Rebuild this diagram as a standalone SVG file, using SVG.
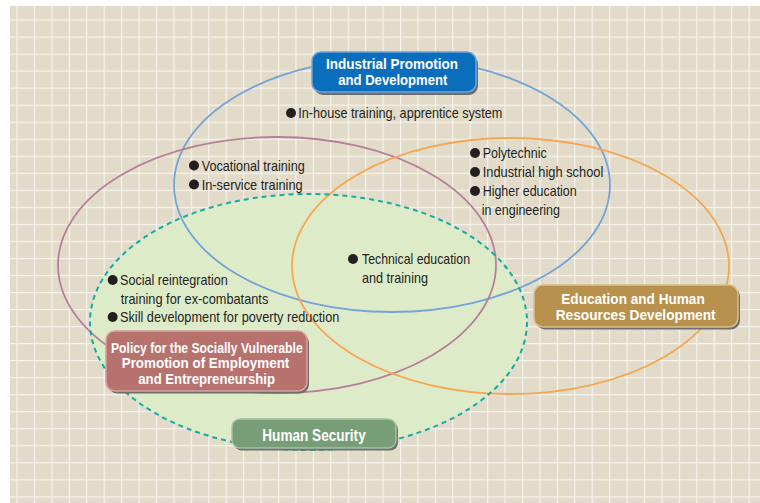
<svg xmlns="http://www.w3.org/2000/svg" width="760" height="503" viewBox="0 0 760 503">
<defs>
<pattern id="grid" patternUnits="userSpaceOnUse" x="16.5" y="19.5" width="17.43" height="17.03">
<rect x="0" y="0" width="1.1" height="17.03" fill="#f8f5ee"/>
<rect x="0" y="0" width="17.43" height="1.1" fill="#f8f5ee"/>
</pattern>
<style>
.bt{font-family:"Liberation Sans",Arial,sans-serif;font-size:14.5px;fill:#231f20}
.lt{font-family:"Liberation Sans",Arial,sans-serif;font-size:15.5px;font-weight:bold;fill:#ffffff}
.ls{font-size:14px}
.sh{fill:#6e6e6e}
.dot{fill:#231f20}
.ell{fill:none;stroke-width:1.8}
</style>
</defs>
<rect x="0" y="0" width="760" height="503" fill="#ffffff"/>
<rect x="10" y="6" width="750" height="497" fill="#e2dbca"/>
<rect x="10" y="6" width="750" height="497" fill="url(#grid)"/>

<g id="connectors">
<ellipse cx="308.5" cy="322" rx="218.5" ry="128" fill="#deebc9"/>
<ellipse class="ell" cx="392" cy="185" rx="218" ry="127" stroke="#72a3d9"/>
<ellipse class="ell" cx="277" cy="265" rx="219" ry="128" stroke="#b77f99"/>
<ellipse class="ell" cx="510.5" cy="266" rx="218.5" ry="128" stroke="#f6a650"/>
<ellipse cx="308.5" cy="322" rx="218.5" ry="128" fill="none" stroke="#17aaa5" stroke-width="2" stroke-dasharray="5 4"/>
</g>

<g id="items">
<circle class="dot" cx="291" cy="113" r="5"/>
<text class="bt" x="298.3" y="118" textLength="204" lengthAdjust="spacingAndGlyphs">In-house training, apprentice system</text>
<circle class="dot" cx="194" cy="165.5" r="5"/>
<text class="bt" x="201.7" y="170.5" textLength="103" lengthAdjust="spacingAndGlyphs">Vocational training</text>
<circle class="dot" cx="194" cy="184.5" r="5"/>
<text class="bt" x="201.7" y="189.5" textLength="101" lengthAdjust="spacingAndGlyphs">In-service training</text>
<circle class="dot" cx="475" cy="153" r="5"/>
<text class="bt" x="482.7" y="158" textLength="64" lengthAdjust="spacingAndGlyphs">Polytechnic</text>
<circle class="dot" cx="475" cy="172" r="5"/>
<text class="bt" x="482.7" y="177" textLength="120.6" lengthAdjust="spacingAndGlyphs">Industrial high school</text>
<circle class="dot" cx="475" cy="191" r="5"/>
<text class="bt" x="482.7" y="196" textLength="94" lengthAdjust="spacingAndGlyphs">Higher education</text>
<text class="bt" x="481.7" y="214.5" textLength="78.3" lengthAdjust="spacingAndGlyphs">in engineering</text>
<circle class="dot" cx="353" cy="259" r="5"/>
<text class="bt" x="362" y="264" textLength="108" lengthAdjust="spacingAndGlyphs">Technical education</text>
<text class="bt" x="362" y="283" textLength="66" lengthAdjust="spacingAndGlyphs">and training</text>
<circle class="dot" cx="112.7" cy="280" r="5"/>
<text class="bt" x="120" y="285" textLength="107.7" lengthAdjust="spacingAndGlyphs">Social reintegration</text>
<text class="bt" x="120.7" y="303.5" textLength="147.6" lengthAdjust="spacingAndGlyphs">training for ex-combatants</text>
<circle class="dot" cx="112.7" cy="317" r="5"/>
<text class="bt" x="120" y="322" textLength="219.3" lengthAdjust="spacingAndGlyphs">Skill development for poverty reduction</text>
</g>

<g id="industrial">
<rect class="sh" x="314" y="55" width="164" height="40" rx="9"/>
<rect x="312" y="52" width="164" height="40" rx="9" fill="#0a6ebd" stroke="#6ba4da" stroke-width="1.5"/>
<text class="lt" x="326" y="69.3" textLength="132" lengthAdjust="spacingAndGlyphs">Industrial Promotion</text>
<text class="lt" x="338.3" y="85" textLength="109" lengthAdjust="spacingAndGlyphs">and Development</text>
</g>

<g id="policy">
<rect class="sh" x="108" y="333.5" width="201" height="60" rx="9"/>
<rect x="106" y="331" width="201" height="60" rx="9" fill="#b8726e" stroke="#d3a3a0" stroke-width="1.5"/>
<text class="lt" x="111" y="352.5" textLength="191.7" lengthAdjust="spacingAndGlyphs">Policy for the Socially Vulnerable</text>
<text class="lt" x="121.7" y="368" textLength="167.6" lengthAdjust="spacingAndGlyphs">Promotion of Employment</text>
<text class="lt" x="138.3" y="384" textLength="136.7" lengthAdjust="spacingAndGlyphs">and Entrepreneurship</text>
</g>

<g id="human-security">
<rect class="sh" x="234" y="421.5" width="164" height="29" rx="8"/>
<rect x="232" y="419" width="164" height="29" rx="8" fill="#789e77" stroke="#a7c2a5" stroke-width="1.5"/>
<text class="lt" x="262.3" y="440.7" textLength="103.4" lengthAdjust="spacingAndGlyphs" style="font-size:16.5px">Human Security</text>
</g>

<g id="education">
<rect class="sh" x="536" y="287.5" width="204" height="42" rx="9"/>
<rect x="534" y="285" width="204" height="42" rx="9" fill="#b8914d" stroke="#d6bd8c" stroke-width="1.5"/>
<text class="lt ls" x="561.3" y="304" textLength="143.4" lengthAdjust="spacingAndGlyphs">Education and Human</text>
<text class="lt ls" x="555.7" y="319.5" textLength="160" lengthAdjust="spacingAndGlyphs">Resources Development</text>
</g>
</svg>
